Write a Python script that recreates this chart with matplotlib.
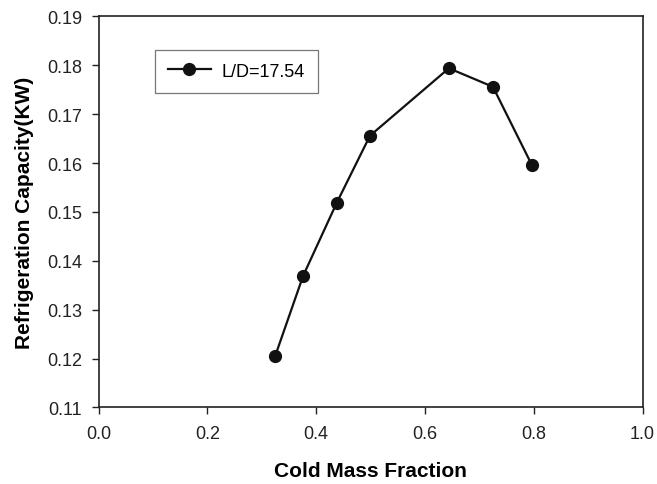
import matplotlib.pyplot as plt

# data
cold_mass_fraction = [0.325, 0.376, 0.438, 0.499, 0.644, 0.725, 0.797]
refrigeration_capacity = [0.1206, 0.1369, 0.1519, 0.1656, 0.1794, 0.1756, 0.1595]
series_label = "L/D=17.54"

x_ticks = [0.0, 0.2, 0.4, 0.6, 0.8, 1.0]
y_ticks = [0.11, 0.12, 0.13, 0.14, 0.15, 0.16, 0.17, 0.18, 0.19]

plt.rcParams['font.family'] = ['Liberation Sans', 'DejaVu Sans']

fig = plt.figure(figsize=(6.57, 4.85), dpi=100)
ax = fig.add_axes([0.150, 0.158, 0.828, 0.806])

#Plot the single series with filled round markers
ax.plot(cold_mass_fraction, refrigeration_capacity, color="#111111", lw=1.6,
        marker="o", markersize=8.5, label=series_label)

ax.set_xlim(0.0, 1.0)
ax.set_ylim(0.11, 0.19)
ax.set_xticks(x_ticks)
ax.set_xticklabels(["%.1f" % t for t in x_ticks])
ax.set_yticks(y_ticks)
ax.set_yticklabels(["%.2f" % t for t in y_ticks])
ax.tick_params(direction="out", length=5, width=1, labelsize=13, colors="#222222",
               top=False, right=False)
ax.tick_params(axis="x", pad=8)
ax.tick_params(axis="y", pad=7)

for side in ax.spines.values():
    side.set_linewidth(1.2)
    side.set_color("#222222")

ax.set_xlabel("Cold Mass Fraction", fontsize=15, fontweight="bold")
ax.set_ylabel("Refrigeration Capacity(KW)", fontsize=15, fontweight="bold")
ax.xaxis.set_label_coords(0.5, -0.162)
ax.xaxis.label.set_verticalalignment("center")
ax.yaxis.set_label_coords(-0.137, 0.5)
ax.yaxis.label.set_verticalalignment("center")

leg = ax.legend(loc="upper left", bbox_to_anchor=(0.103, 0.915), borderaxespad=0,
                fontsize=13, fancybox=False, handlelength=2.4, handletextpad=0.6,
                borderpad=0.72, edgecolor="#555555")
leg.get_frame().set_linewidth(0.9)

fig.savefig("out.png", dpi=100)
